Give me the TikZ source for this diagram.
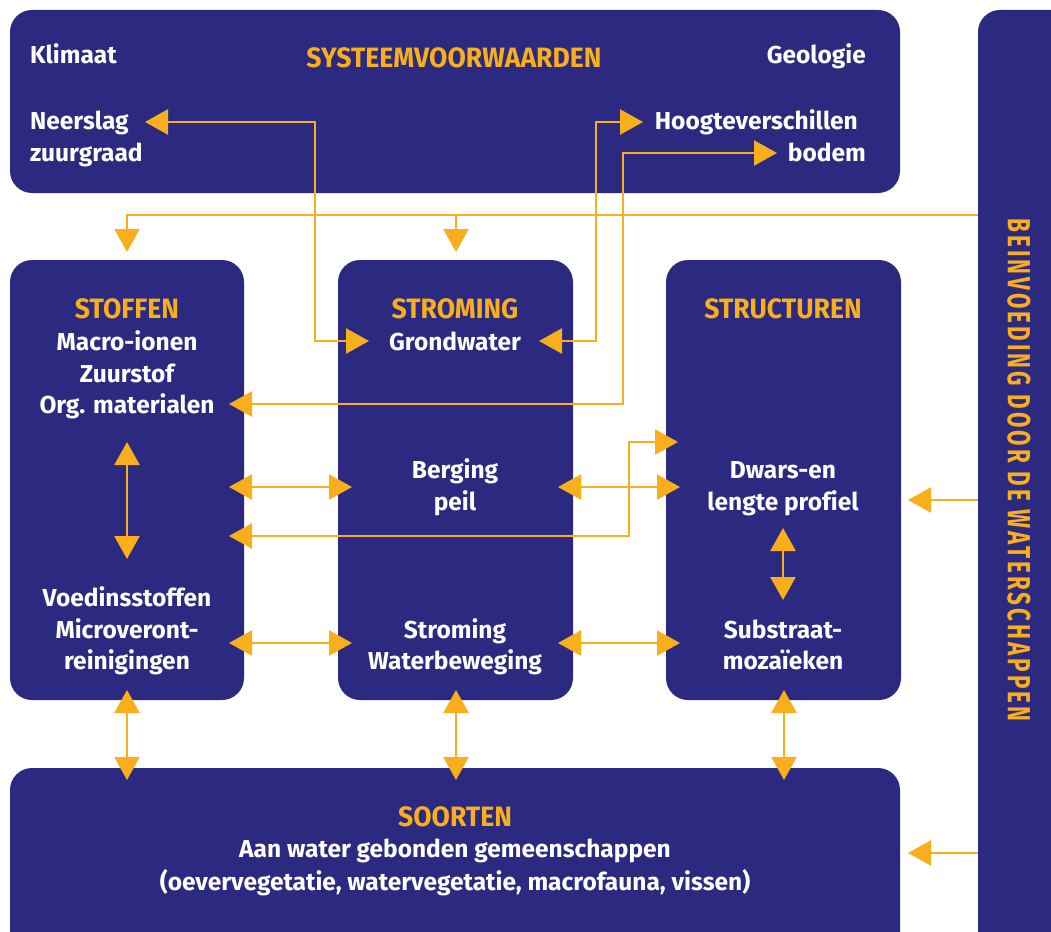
\documentclass[tikz,border=0pt]{standalone}
\usepackage{fontspec}
\usetikzlibrary{arrows.meta}
\newfontfamily\bodyfont[Ligatures=NoCommon]{Fira Sans}
\newfontfamily\titlefont[FakeStretch=0.95]{Fira Sans}
\newfontfamily\sidefont[FakeStretch=0.7,LetterSpace=9.5]{Fira Sans}
\definecolor{dblue}{RGB}{43,42,128}
\definecolor{gold}{RGB}{249,174,27}
\begin{document}
\begin{tikzpicture}[x=1pt,y=-1pt,
  box/.style={fill=dblue, rounded corners=22pt},
  wt/.style={text=white, font=\bodyfont\bfseries\fontsize{24.5}{28}\selectfont, inner sep=0pt},
  ttl/.style={text=gold, font=\titlefont\bfseries\fontsize{28}{32}\selectfont, inner sep=0pt, anchor=base},
  ln/.style={draw=gold, line width=2.5pt},
  >={Triangle[length=23pt,width=25pt]}]
\useasboundingbox (0,0) rectangle (1051,931);
\clip (0,0) rectangle (1051,931);
\fill[white] (0,0) rectangle (1051,931);
% boxes
\fill[box] (10,10) rectangle (900,193);
\fill[box] (978,10) rectangle (1100,980);
\fill[box] (10,260) rectangle (244,700);
\fill[box] (338,260) rectangle (573,700);
\fill[box] (666,260) rectangle (901,700);
\fill[box] (10,768) rectangle (900,980);
% top texts
\node[wt, anchor=base west] (klimaat) at (30,64) {Klimaat};
\node[ttl] (sysv) at (454,68) {SYSTEEMVOORWAARDEN};
\node[wt, anchor=base east] (geologie) at (866,64) {Geologie};
\node[wt, anchor=base west] (neerslag) at (30,129) {Neerslag};
\node[wt, anchor=base west] (zuurgraad) at (30,161) {zuurgraad};
\node[wt, anchor=base east] (hoogte) at (858,129) {Hoogteverschillen};
\node[wt, anchor=base east] (bodem) at (866,161) {bodem};
% stoffen
\node[ttl] (stoffen) at (127,318) {STOFFEN};
\node[wt, anchor=base] (macro) at (127,350) {Macro-ionen};
\node[wt, anchor=base] (zuurstof) at (127,382) {Zuurstof};
\node[wt, anchor=base] (org) at (127,413) {Org. materialen};
\node[wt, anchor=base] (voed) at (127,606) {Voedinsstoffen};
\node[wt, anchor=base] (micro) at (127,638) {Microveront-};
\node[wt, anchor=base] (rein) at (127,669) {reinigingen};
% stroming
\node[ttl] (stromingT) at (455,318) {STROMING};
\node[wt, anchor=base] (grond) at (455,350) {Grondwater};
\node[wt, anchor=base] (berging) at (455,478) {Berging};
\node[wt, anchor=base] (peil) at (455,510) {peil};
\node[wt, anchor=base] (stroming) at (455,638) {Stroming};
\node[wt, anchor=base] (waterbew) at (455,669) {Waterbeweging};
% structuren
\node[ttl] (structuren) at (783,318) {STRUCTUREN};
\node[wt, anchor=base] (dwars) at (783,478) {Dwars-en};
\node[wt, anchor=base] (lengte) at (783,510) {lengte profiel};
\node[wt, anchor=base] (substraat) at (783,638) {Substraat-};
\node[wt, anchor=base] (mozaiek) at (783,669) {mozaïeken};
% soorten
\node[ttl] (soorten) at (455,826) {SOORTEN};
\node[wt, anchor=base] (aan) at (455,857) {Aan water gebonden gemeenschappen};
\node[wt, anchor=base] (oever) at (455,890) {(oevervegetatie, watervegetatie, macrofauna, vissen)};
% side
\node[text=gold, font=\sidefont\bfseries\fontsize{32}{36}\selectfont, inner sep=0pt, rotate=-90] (side) at (1019,470) {BEINVOEDING DOOR DE WATERSCHAPPEN};
% arrow end coordinates
\coordinate (neerA) at (145,122);
\coordinate (grondL) at (369,341);
\coordinate (grondR) at (539,341);
\coordinate (hoogA) at (643,122);
\coordinate (bodemA) at (777,153);
\coordinate (orgA) at (229,404);
\coordinate (sideTop) at (978,215);
\coordinate (stofTop) at (127,252);
\coordinate (stromTop) at (456,252);
\coordinate (stofUp) at (127,442);
\coordinate (stofDn) at (127,559);
\coordinate (stofM) at (229,487);
\coordinate (bergL) at (352,487);
\coordinate (bergR) at (558,487);
\coordinate (dwarsL) at (680,487);
\coordinate (stofL2) at (229,536);
\coordinate (dwarsU) at (678,442);
\coordinate (voedA) at (229,643);
\coordinate (stromL) at (352,643);
\coordinate (stromR) at (558,643);
\coordinate (substrL) at (680,643);
\coordinate (dwarsUp) at (783,528);
\coordinate (dwarsDn) at (783,600);
\coordinate (sideMid) at (978,500);
\coordinate (dwarsR) at (908,500);
\coordinate (sideLow) at (978,853);
\coordinate (soortR) at (908,853);
\foreach \x/\n in {127/a,456/b,784/c}{
  \coordinate (bt\n) at (\x,690);
  \coordinate (bb\n) at (\x,780);
}
% connectors
\draw[ln,<->] (neerA) -| (315,341) -- (grondL);
\draw[ln,<->] (grondR) -| (596,122) -- (hoogA);
\draw[ln,<->] (orgA) -| (623,153) -- (bodemA);
\draw[ln,->] (sideTop) -| (stofTop);
\draw[ln,->] (stromTop |- sideTop) -- (stromTop);
\draw[ln,<->] (stofUp) -- (stofDn);
\draw[ln,<->] (stofM) -- (bergL);
\draw[ln,<->] (bergR) -- (dwarsL);
\draw[ln,<->] (stofL2) -| (629,442) -- (dwarsU);
\draw[ln,<->] (voedA) -- (stromL);
\draw[ln,<->] (stromR) -- (substrL);
\draw[ln,<->] (dwarsUp) -- (dwarsDn);
\draw[ln,->] (sideMid) -- (dwarsR);
\draw[ln,->] (sideLow) -- (soortR);
\draw[ln,<->] (bta) -- (bba);
\draw[ln,<->] (btb) -- (bbb);
\draw[ln,<->] (btc) -- (bbc);
\end{tikzpicture}
\end{document}
